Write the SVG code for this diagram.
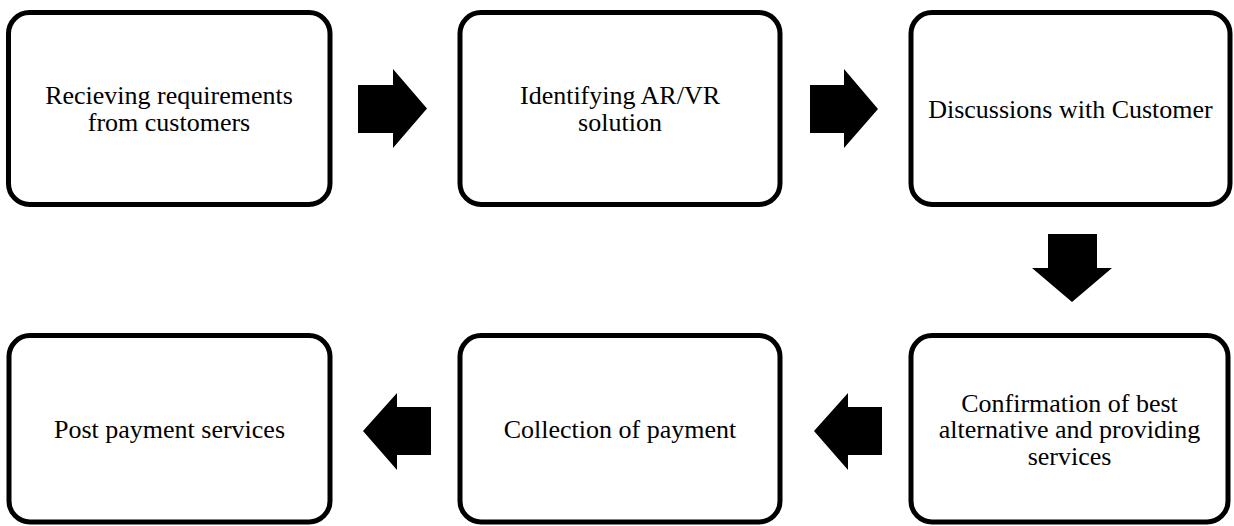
<svg xmlns="http://www.w3.org/2000/svg" width="1234" height="526" viewBox="0 0 1234 526">
<style>
.box{fill:#fff;stroke:#000;stroke-width:5}
.lbl{font-family:"Liberation Serif","Times New Roman",serif;font-size:26px;fill:#000;text-anchor:middle}
.arr{fill:#000}
</style>
<rect width="1234" height="526" fill="#fff"/>
<g id="n1"><rect class="box" x="8.5" y="12.5" width="321.5" height="192" rx="21"/>
<text class="lbl" x="169" y="104">Recieving requirements</text><text class="lbl" x="169" y="131">from customers</text></g>
<g id="n2"><rect class="box" x="460" y="12.5" width="320" height="192" rx="21"/>
<text class="lbl" x="620" y="104">Identifying AR/VR</text><text class="lbl" x="620" y="131">solution</text></g>
<g id="n3"><rect class="box" x="911" y="12.5" width="319" height="192" rx="21"/>
<text class="lbl" x="1070.5" y="118">Discussions with Customer</text></g>
<g id="n4"><rect class="box" x="911" y="335.5" width="317" height="186.5" rx="21"/>
<text class="lbl" x="1069.5" y="412">Confirmation of best</text><text class="lbl" x="1069.5" y="438">alternative and providing</text><text class="lbl" x="1069.5" y="465">services</text></g>
<g id="n5"><rect class="box" x="460" y="335.5" width="320" height="186.5" rx="21"/>
<text class="lbl" x="620" y="438">Collection of payment</text></g>
<g id="n6"><rect class="box" x="9" y="335.5" width="321" height="186.5" rx="21"/>
<text class="lbl" x="169.5" y="438">Post payment services</text></g>
<g id="connectors">
<polygon class="arr" points="358,85 393,85 393,69 427,108.5 393,148 393,133 358,133"/>
<polygon class="arr" points="810,85 844,85 844,69 878,109 844,148 844,133 810,133"/>
<polygon class="arr" points="1048,234 1097,234 1097,268 1112,268 1072,302 1032,268 1048,268"/>
<polygon class="arr" points="882,407 848,407 848,393 814,431 848,470 848,455 882,455"/>
<polygon class="arr" points="431,407 397,407 397,393 363,431 397,470 397,455 431,455"/>
</g>
</svg>
